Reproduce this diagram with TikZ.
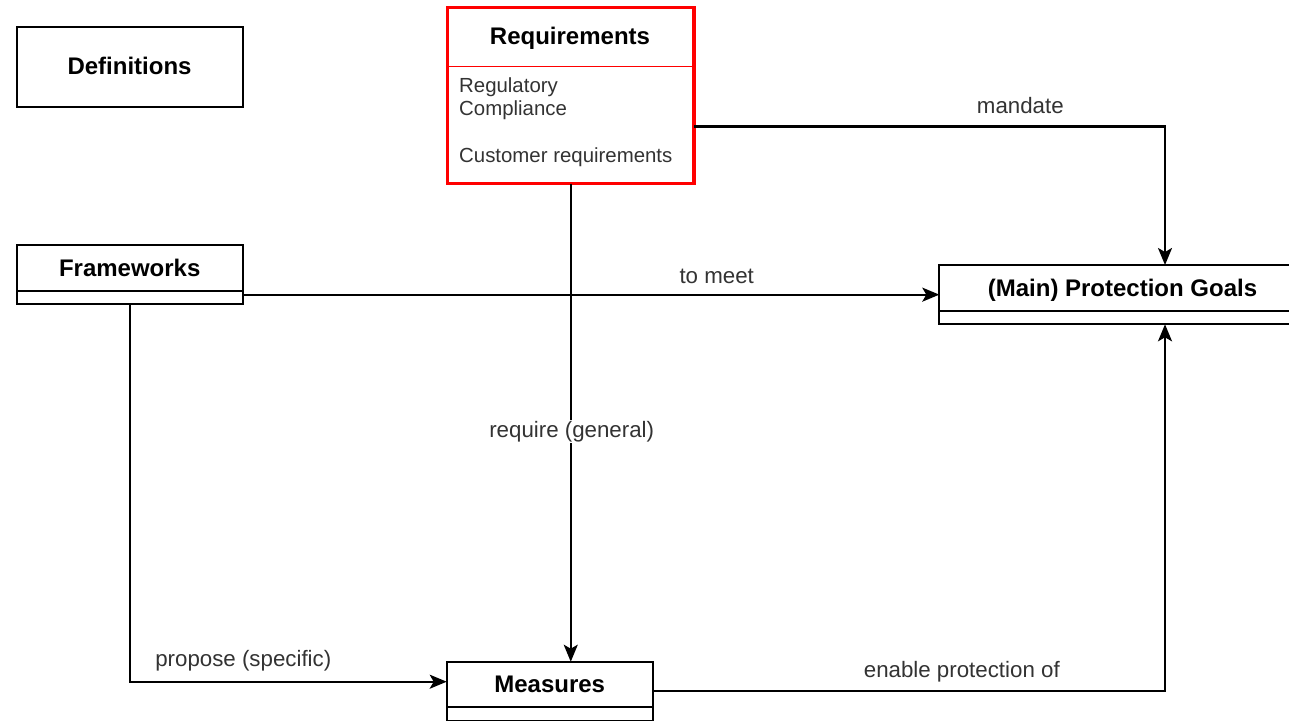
\documentclass[tikz,border=0pt]{standalone}
\usepackage{fontspec}
\setmainfont{Liberation Sans}
\usetikzlibrary{arrows.meta,calc}
\definecolor{txt}{HTML}{333333}
\definecolor{reqred}{HTML}{FF0000}
\begin{document}
\begin{tikzpicture}[x=1pt,y=-1pt,
  box/.style={draw=black, line width=2.2pt, fill=white, inner sep=0pt, outer sep=0pt},
  title/.style={font=\fontsize{24}{28}\selectfont\bfseries, text=black, anchor=base, inner sep=0pt},
  body/.style={font=\fontsize{20.4}{23.6}\selectfont, text=txt, anchor=base west, inner sep=0pt},
  lbl/.style={font=\fontsize{22.3}{26}\selectfont, text=txt, anchor=base, inner sep=0pt},
  conn/.style={draw=black, line width=2.2pt, -{Stealth[length=17pt,width=14pt,inset=4pt]}}]
\clip (0,0) rectangle (1289,720);
\fill[white] (0,0) rectangle (1289,720);

% boxes
\node[box, minimum width=226pt, minimum height=79.4pt] (def) at (129.7,67) {};
\node[box, draw=reqred, line width=3.4pt, minimum width=246.5pt, minimum height=176pt] (req) at (570.75,95.5) {};
\draw[reqred, line width=1.2pt] ($(req.north west)+(0,59.2)$) -- ($(req.north east)+(0,59.2)$);
\node[box, minimum width=226pt, minimum height=59pt] (fw) at (129.7,274.5) {};
\draw[line width=2.2pt] ($(fw.south west)+(0,-13)$) -- ($(fw.south east)+(0,-13)$);
\node[box, minimum width=366.4pt, minimum height=59.3pt] (pg) at (1122.5,294.65) {};
\draw[line width=2.2pt] ($(pg.south west)+(0,-13.3)$) -- ($(pg.south east)+(0,-13.3)$);
\node[box, minimum width=206pt, minimum height=59pt] (ms) at (549.7,691.2) {};
\draw[line width=2.2pt] ($(ms.south west)+(0,-14)$) -- ($(ms.south east)+(0,-14)$);

% titles and compartment text
\node[title] (deft) at (129.5,74.8) {Definitions};
\node[title] (reqt) at (570,44.5) {Requirements};
\node[title] (fwt) at (129.7,276.2) {Frameworks};
\node[title] (pgt) at (1122.5,296.2) {(Main) Protection Goals};
\node[title] (mst) at (549.7,692.5) {Measures};
\node[body] (reqb1) at (459,92.7) {Regulatory};
\node[body] (reqb2) at (459,115.5) {Compliance};
\node[body] (reqb3) at (459,162.8) {Customer requirements};

% connectors
\draw[conn] ([yshift=-31pt]req.east) -| ([xshift=42.5pt]pg.north);
\draw[conn] (fw.east |- pg.west) -- (pg.west);
\draw[conn] (req.south) -- (req.south |- ms.north);
\draw[conn] (fw.south) |- ([yshift=9.5pt]ms.west);
\draw[conn] (ms.east) -| ([xshift=42.5pt]pg.south);

% connector labels
\node[lbl] (lmand) at (1020.3,113.5) {mandate};
\node[lbl] (lmeet) at (716.7,283.5) {to meet};
\node[lbl, fill=white, inner sep=1pt] (lreq) at (571.7,437) {require (general)};
\node[lbl] (lprop) at (243.3,666.5) {propose (specific)};
\node[lbl] (lenab) at (961.8,677) {enable protection of};
\end{tikzpicture}
\end{document}
